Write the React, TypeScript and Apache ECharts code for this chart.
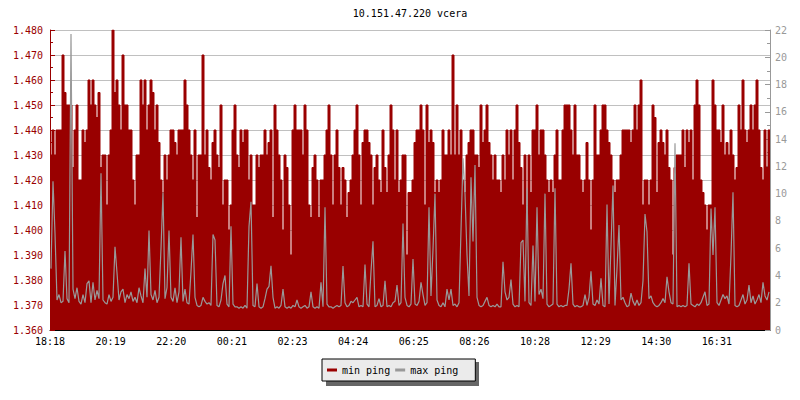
import React, { useEffect, useRef } from "react";
import * as echarts from "echarts";

const TITLE = "10.151.47.220 vcera";
const START_MINUTE = 18 * 60 + 18;
const STEP_MINUTES = 4;
const TOTAL_MINUTES = 1440;
const TICK_MINUTES = 121.25;
const SERIES_NAMES = ["min ping", "max ping"];

const minPing = [
  1.43, 1.44, 1.43, 1.44, 1.44, 1.44, 1.47, 1.455, 1.45, 1.45,
  1.45, 1.425, 1.44, 1.45, 1.42, 1.42, 1.44, 1.435, 1.44, 1.46,
  1.45, 1.46, 1.45, 1.445, 1.455, 1.425, 1.43, 1.43, 1.41, 1.43,
  1.44, 1.48, 1.455, 1.46, 1.45, 1.44, 1.47, 1.45, 1.45, 1.44,
  1.44, 1.42, 1.41, 1.43, 1.43, 1.46, 1.45, 1.46, 1.44, 1.45,
  1.46, 1.455, 1.44, 1.45, 1.435, 1.42, 1.415, 1.43, 1.42, 1.43,
  1.44, 1.44, 1.435, 1.43, 1.44, 1.44, 1.44, 1.46, 1.45, 1.44, 1.43, 1.42,
  1.44, 1.405, 1.43, 1.43, 1.47, 1.43, 1.44, 1.425, 1.42, 1.435,
  1.44, 1.43, 1.425, 1.45, 1.41, 1.42, 1.42, 1.40, 1.41, 1.44,
  1.45, 1.43, 1.425, 1.44, 1.435, 1.44, 1.44, 1.42, 1.43, 1.41,
  1.41, 1.43, 1.425, 1.43, 1.43, 1.44, 1.43, 1.435, 1.44, 1.405,
  1.45, 1.44, 1.43, 1.42, 1.40, 1.43, 1.425, 1.41, 1.39, 1.44,
  1.45, 1.44, 1.44, 1.44, 1.43, 1.45, 1.44, 1.41, 1.405, 1.425,
  1.43, 1.42, 1.405, 1.42, 1.42, 1.43, 1.44, 1.45, 1.43, 1.41, 1.43, 1.44,
  1.425, 1.41, 1.425, 1.42, 1.405, 1.415, 1.42, 1.43, 1.44, 1.45,
  1.43, 1.41, 1.435, 1.44, 1.44, 1.435, 1.43, 1.41, 1.425, 1.43,
  1.42, 1.415, 1.44, 1.425, 1.415, 1.43, 1.45, 1.44, 1.42, 1.44,
  1.415, 1.42, 1.43, 1.43, 1.39, 1.415, 1.415, 1.42, 1.435, 1.44,
  1.44, 1.45, 1.44, 1.41, 1.45, 1.435, 1.44, 1.435, 1.415, 1.42,
  1.415, 1.42, 1.44, 1.43, 1.43, 1.44, 1.43, 1.47, 1.43, 1.45,
  1.43, 1.44, 1.42, 1.415, 1.43, 1.435, 1.44, 1.44, 1.43, 1.43, 1.425, 1.45,
  1.435, 1.44, 1.45, 1.435, 1.43, 1.42, 1.43, 1.42, 1.42, 1.415,
  1.43, 1.42, 1.44, 1.43, 1.44, 1.42, 1.44, 1.45, 1.435, 1.425,
  1.41, 1.43, 1.405, 1.43, 1.415, 1.44, 1.44, 1.45, 1.43, 1.44,
  1.44, 1.43, 1.42, 1.415, 1.42, 1.415, 1.43, 1.44, 1.42, 1.42,
  1.44, 1.45, 1.45, 1.45, 1.44, 1.43, 1.45, 1.43, 1.43, 1.42,
  1.415, 1.42, 1.435, 1.42, 1.40, 1.42, 1.45, 1.43, 1.43, 1.44,
  1.45, 1.45, 1.44, 1.435, 1.43, 1.42, 1.415, 1.42, 1.42, 1.43, 1.44, 1.44,
  1.44, 1.44, 1.435, 1.44, 1.45, 1.44, 1.45, 1.46, 1.41, 1.42,
  1.42, 1.41, 1.42, 1.45, 1.445, 1.415, 1.435, 1.44, 1.435, 1.43,
  1.44, 1.425, 1.42, 1.39, 1.425, 1.43, 1.43, 1.43, 1.44, 1.425,
  1.44, 1.435, 1.44, 1.42, 1.45, 1.46, 1.45, 1.42, 1.415, 1.41,
  1.40, 1.41, 1.41, 1.46, 1.45, 1.44, 1.44, 1.435, 1.45, 1.43,
  1.435, 1.43, 1.44, 1.43, 1.42, 1.425, 1.45, 1.44, 1.46, 1.44,
  1.435, 1.44, 1.45, 1.44, 1.45, 1.46, 1.44, 1.425, 1.42, 1.44, 1.425, 1.44,
];

const maxPing = [
  4.5, 10.9, 7.1, 2.2, 2.6, 2.0, 2.1, 5.8, 2.3, 2.0,
  21.7, 3.0, 2.3, 3.1, 2.1, 1.9, 2.6, 2.0, 3.4, 3.6,
  2.0, 3.5, 2.2, 2.9, 2.3, 11.5, 2.2, 2.0, 1.9, 2.6,
  2.1, 2.4, 6.1, 4.2, 2.2, 2.8, 3.0, 2.0, 2.6, 2.3,
  2.8, 2.1, 2.4, 2.0, 3.1, 2.5, 2.0, 4.5, 2.4, 7.3,
  2.6, 2.2, 2.9, 2.0, 2.4, 6.0, 10.1, 2.3, 3.1, 7.3,
  2.4, 2.1, 3.1, 2.0, 2.8, 6.8, 2.1, 3.0, 2.0, 1.9, 4.3, 7.0,
  2.4, 1.8, 1.7, 1.8, 2.4, 2.1, 1.9, 2.0, 1.8, 7.0,
  6.6, 1.8, 1.7, 2.2, 3.4, 4.0, 1.9, 1.7, 7.6, 1.9,
  1.7, 1.7, 1.6, 1.7, 1.6, 1.8, 1.6, 7.6, 9.4, 1.8,
  1.7, 3.4, 1.7, 1.6, 1.7, 2.3, 3.0, 3.2, 4.7, 2.4,
  1.6, 1.7, 1.6, 1.8, 3.0, 1.7, 1.6, 1.7, 1.6, 1.8,
  1.7, 2.2, 1.7, 1.6, 1.7, 1.8, 1.6, 1.7, 2.8, 1.7,
  1.6, 1.7, 1.6, 3.5, 1.7, 9.0, 1.9, 1.7, 1.7, 1.6, 1.7, 1.8,
  1.7, 1.8, 4.7, 2.0, 1.7, 1.8, 2.1, 2.0, 2.2, 2.4,
  1.7, 1.8, 1.7, 4.8, 1.9, 1.7, 4.3, 6.5, 1.7, 1.8,
  2.3, 1.7, 1.8, 3.6, 1.7, 1.8, 1.7, 2.0, 2.1, 3.3,
  1.8, 2.0, 7.8, 2.4, 1.8, 1.7, 1.9, 5.2, 1.9, 1.8,
  2.1, 3.5, 2.6, 1.8, 2.0, 9.0, 2.5, 5.9, 10.0, 2.2,
  1.8, 1.7, 2.0, 1.7, 3.0, 2.2, 3.0, 1.8, 1.9, 1.7,
  2.0, 7.3, 12.6, 10.0, 5.5, 2.5, 11.2, 6.5, 12.1, 2.4, 1.8, 1.7,
  1.8, 2.1, 2.4, 1.8, 1.7, 1.8, 1.7, 1.9, 1.7, 1.7,
  5.0, 2.8, 2.2, 2.4, 3.7, 1.9, 1.7, 1.8, 1.7, 6.4,
  6.6, 2.1, 10.4, 2.0, 1.8, 6.2, 2.1, 9.0, 2.6, 3.0,
  2.3, 10.0, 1.9, 1.7, 1.8, 1.9, 10.4, 1.9, 1.7, 1.8,
  1.7, 1.8, 1.8, 3.0, 4.9, 1.9, 1.7, 1.8, 1.7, 1.7,
  1.8, 2.6, 1.8, 2.4, 4.3, 1.9, 1.8, 2.2, 1.9, 3.8,
  1.8, 1.7, 9.2, 1.9, 6.2, 10.6, 1.8, 4.5, 7.7, 2.2, 2.4, 2.0,
  1.7, 1.8, 2.7, 2.1, 1.8, 2.2, 1.8, 2.0, 3.6, 8.5,
  7.2, 2.3, 2.5, 2.0, 1.8, 1.7, 1.8, 2.0, 2.3, 2.0,
  3.9, 2.8, 2.0, 1.9, 13.7, 1.7, 1.8, 1.7, 1.8, 1.7,
  1.8, 4.9, 1.9, 1.8, 1.7, 1.9, 1.8, 2.0, 2.4, 2.8,
  1.8, 1.9, 8.9, 5.5, 9.0, 2.0, 1.8, 2.2, 2.6, 2.3,
  2.5, 1.9, 5.5, 10.1, 1.8, 1.7, 1.8, 2.2, 2.6, 1.9,
  2.2, 3.3, 2.0, 2.5, 1.9, 2.2, 2.6, 2.0, 3.5, 2.5, 2.2, 2.8,
];

const FONT = "'DejaVu Sans Mono', 'Liberation Mono', monospace";
const RED = "#990000";
const GREY = "#999999";

function toPairs(values: number[], closeEnd: boolean): [number, number][] {
  const pts: [number, number][] = values.map((v, i) => [i * STEP_MINUTES, v]);
  if (closeEnd) pts.push([TOTAL_MINUTES, values[values.length - 1]]);
  return pts;
}

function fmtTime(v: number): string {
  const m = (Math.floor(START_MINUTE + v + 1e-6) % 1440 + 1440) % 1440;
  const hh = Math.floor(m / 60);
  const mm = m % 60;
  return String(hh).padStart(2, "0") + ":" + String(mm).padStart(2, "0");
}

export default function App() {
  const ref = useRef<HTMLDivElement>(null);

  useEffect(() => {
    if (!ref.current) return;
    const chart = echarts.init(ref.current, undefined, { renderer: "svg" });
    chart.setOption({
      animation: false,
      backgroundColor: "#ffffff",
      title: {
        text: TITLE,
        left: 410,
        textAlign: "center",
        top: 8,
        padding: 0,
        textStyle: { fontFamily: FONT, fontSize: 10, fontWeight: "normal", color: "#000" },
      },
      grid: { left: 50, right: 30, top: 30, bottom: 70 },
      legend: {
        data: SERIES_NAMES,
        left: 322,
        top: 359,
        padding: [6, 17, 6, 5],
        itemGap: 5,
        itemWidth: 10,
        itemHeight: 3,
        icon: "rect",
        selectedMode: false,
        backgroundColor: "#ebebeb",
        borderColor: "#000000",
        borderWidth: 1,
        borderRadius: 0,
        textStyle: { fontFamily: FONT, fontSize: 10, color: "#000", padding: [0, 0, 0, 0] },
        itemStyle: { borderWidth: 0 },
      },
      graphic: [
        {
          type: "rect",
          z: 0,
          shape: { x: 326, y: 362, width: 153, height: 24 },
          style: { fill: "#666666" },
        },
      ],
      xAxis: {
        type: "value",
        min: 0,
        max: TOTAL_MINUTES,
        interval: TICK_MINUTES,
        axisLine: { show: true, lineStyle: { color: "#000", width: 1 } },
        axisTick: { show: true, inside: true, length: 5, lineStyle: { color: "#000" } },
        axisLabel: {
          formatter: (v: number) => fmtTime(v),
          fontFamily: FONT,
          fontSize: 10,
          color: "#000",
          margin: 6,
          showMaxLabel: false,
        },
        splitLine: { show: false },
      },
      yAxis: [
        {
          type: "value",
          position: "left",
          min: 1.36,
          max: 1.48,
          interval: 0.01,
          axisLine: { show: true, lineStyle: { color: RED } },
          axisTick: { show: true, inside: true, length: 5, lineStyle: { color: RED } },
          minorTick: { show: true, splitNumber: 2, length: 3, lineStyle: { color: RED } },
          axisLabel: {
            formatter: (v: number) => v.toFixed(3),
            fontFamily: FONT,
            fontSize: 10,
            color: RED,
            margin: 7,
          },
          splitLine: { show: true, lineStyle: { color: "#c0c0c0", width: 1 } },
        },
        {
          type: "value",
          position: "right",
          min: 0,
          max: 22,
          interval: 2,
          axisLine: { show: true, lineStyle: { color: GREY } },
          axisTick: { show: true, inside: true, length: 5, lineStyle: { color: GREY } },
          minorTick: { show: true, splitNumber: 2, length: 3, lineStyle: { color: GREY } },
          axisLabel: { fontFamily: FONT, fontSize: 10, color: GREY, margin: 5 },
          splitLine: { show: false },
        },
      ],
      series: [
        {
          name: SERIES_NAMES[0],
          type: "line",
          yAxisIndex: 0,
          step: "end",
          showSymbol: false,
          symbol: "none",
          color: RED,
          lineStyle: { color: RED, width: 1 },
          areaStyle: { color: RED, opacity: 1, origin: "start" },
          data: toPairs(minPing, true),
          z: 2,
        },
        {
          name: SERIES_NAMES[1],
          type: "line",
          yAxisIndex: 1,
          showSymbol: false,
          symbol: "none",
          color: GREY,
          lineStyle: { color: GREY, width: 1.2 },
          data: toPairs(maxPing, false).map(([x, v]) => [x + STEP_MINUTES / 2, v]),
          z: 3,
        },
      ],
    });
    return () => chart.dispose();
  }, []);

  return (
    <div
      ref={ref}
      style={{ position: "fixed", left: 0, top: 0, width: 800, height: 400 }}
    />
  );
}
